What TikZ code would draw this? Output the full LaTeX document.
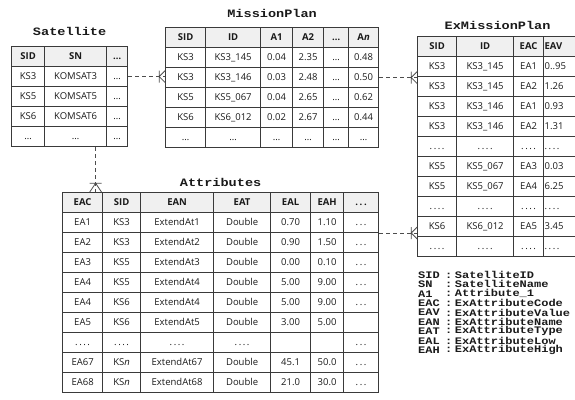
\documentclass[tikz,border=0pt]{standalone}
\usepackage{fontspec}
\setmainfont{Open Sans}
\newfontfamily\titlefont{Liberation Mono}[FakeStretch=1.2]
\usetikzlibrary{matrix,positioning}

\definecolor{hdrgray}{HTML}{F0F0F0}
\definecolor{linegray}{HTML}{3A3A3A}
\definecolor{conngray}{HTML}{4D4D4D}
\definecolor{textgray}{HTML}{1A1A1A}

\newcommand{\cellsize}{\fontsize{9.5}{11}\selectfont}
\newcommand{\fourdot}{.\,.\,.\,.}
\newcommand{\threedot}{.\,.\,.}

\begin{document}
\begin{tikzpicture}[
      x=1pt, y=-1pt,
      cell/.style={draw=linegray, line width=0.8pt, minimum height=20pt, inner sep=0pt, anchor=center,
        text height=7pt, text depth=2pt, text=textgray, font=\cellsize},
      hdr/.style={fill=hdrgray, font=\cellsize\bfseries},
      tbl/.style={matrix of nodes, nodes in empty cells, anchor=north west, inner sep=0pt,
        row sep=-0.8pt, column sep=-0.8pt, nodes={cell}, row 1/.style={nodes={hdr}}},
      title/.style={font=\titlefont\bfseries\fontsize{11.3}{12}\selectfont, inner sep=0pt, text=textgray},
      legend/.style={font=\titlefont\bfseries\fontsize{10}{10}\selectfont, inner sep=0pt, anchor=west, text=textgray},
      conn/.style={draw=conngray, line width=0.8pt, dash pattern=on 4pt off 3pt},
      crowfoot/.pic={
        \draw[draw=conngray, line width=0.8pt, solid] (-#1,-6) -- (-#1,6) (0,-6) -- (-#1,0) -- (0,6);
      }
    ]
    \useasboundingbox (0,0) rectangle (575,399);

    \matrix[tbl,
      column 1/.style={nodes={minimum width=33pt}},
      column 2/.style={nodes={minimum width=62pt}},
      column 3/.style={nodes={minimum width=21pt}}] (sat) at (11,46) {
      SID & SN & \dots \\
      KS3 & KOMSAT3 & \dots \\
      KS5 & KOMSAT5 & \dots \\
      KS6 & KOMSAT6 & \dots \\
      \dots & \dots & \dots \\
    };
    \node[title] (sattitle) at ([yshift=15pt]sat.north) {Satellite};

    \matrix[tbl,
      column 1/.style={nodes={minimum width=40pt}},
      column 2/.style={nodes={minimum width=55pt}},
      column 3/.style={nodes={minimum width=32pt}},
      column 4/.style={nodes={minimum width=31pt}},
      column 5/.style={nodes={minimum width=25pt}},
      column 6/.style={nodes={minimum width=30pt}}] (mp) at (165,27) {
      SID & ID & A1 & A2 & \dots & A\textit{n} \\
      KS3 & KS3\_145 & 0.04 & 2.35 & \dots & 0.48 \\
      KS3 & KS3\_146 & 0.03 & 2.48 & \dots & 0.50 \\
      KS5 & KS5\_067 & 0.04 & 2.65 & \dots & 0.62 \\
      KS6 & KS6\_012 & 0.02 & 2.67 & \dots & 0.44 \\
      \dots & \dots & \dots & \dots & \dots & \dots \\
    };
    \node[title] (mptitle) at ([yshift=14pt]mp.north) {MissionPlan};

    \matrix[tbl,
      column 1/.style={nodes={minimum width=39pt}},
      column 2/.style={nodes={minimum width=57pt}},
      column 3/.style={nodes={minimum width=30pt}},
      column 4/.style={nodes={minimum width=34pt, text width=32pt, align=left}}] (emp) at (417,36) {
      SID & ID & EAC & EAV \\
      KS3 & KS3\_145 & EA1 & 0..95 \\
      KS3 & KS3\_145 & EA2 & 1.26 \\
      KS3 & KS3\_146 & EA1 & 0.93 \\
      KS3 & KS3\_146 & EA2 & 1.31 \\
      \fourdot & \fourdot & \fourdot & \fourdot \\
      KS5 & KS5\_067 & EA3 & 0.03 \\
      KS5 & KS5\_067 & EA4 & 6.25 \\
      \fourdot & \fourdot & \fourdot & \fourdot \\
      KS6 & KS6\_012 & EA5 & 3.45 \\
      \fourdot & \fourdot & \fourdot & \fourdot \\
    };
    \node[title] (emptitle) at ([yshift=11pt]emp.north) {ExMissionPlan};

    \matrix[tbl,
      column 1/.style={nodes={minimum width=40pt}},
      column 2/.style={nodes={minimum width=38pt}},
      column 3/.style={nodes={minimum width=73pt}},
      column 4/.style={nodes={minimum width=57pt}},
      column 5/.style={nodes={minimum width=40pt}},
      column 6/.style={nodes={minimum width=33pt}},
      column 7/.style={nodes={minimum width=35pt}}] (att) at (62,192) {
      EAC & SID & EAN & EAT & EAL & EAH & \threedot \\
      EA1 & KS3 & ExtendAt1 & Double & 0.70 & 1.10 & \threedot \\
      EA2 & KS3 & ExtendAt2 & Double & 0.90 & 1.50 & \threedot \\
      EA3 & KS5 & ExtendAt3 & Double & 0.00 & 0.10 & \threedot \\
      EA4 & KS5 & ExtendAt4 & Double & 5.00 & 9.00 & \threedot \\
      EA4 & KS6 & ExtendAt4 & Double & 5.00 & 9.00 & \threedot \\
      EA5 & KS6 & ExtendAt5 & Double & 3.00 & 5.00 & \\
      \fourdot & \fourdot & \fourdot & \fourdot & & & \threedot \\
      EA67 & KS\textit{n} & ExtendAt67 & Double & 45.1 & 50.0 & \threedot \\
      EA68 & KS\textit{n} & ExtendAt68 & Double & 21.0 & 30.0 & \threedot \\
    };
    \node[title] (atttitle) at ([yshift=10pt]att.north) {Attributes};

    \draw[conn] (sat-2-3.east) -- (sat-2-3.east -| mp-3-1.west) coordinate (ft1);
    \pic at (ft1) {crowfoot=6};
    \draw[conn] (mp-3-6.east) -- (mp-3-6.east -| emp-2-1.west) coordinate (ft2);
    \pic at (ft2) {crowfoot=6};
    \coordinate (satdrop) at ([xshift=20pt]sat-5-2.south);
    \draw[conn] (satdrop) -- (satdrop |- att-1-1.north) coordinate (ft3);
    \pic[rotate=-90] at (ft3) {crowfoot=9};
    \draw[conn] (att-2-7.south east) -- (att-2-7.south east -| emp-10-1.west) coordinate (ft4);
    \pic at (ft4) {crowfoot=6};

    \foreach \key/\val [count=\i from 0] in {SID/SatelliteID, SN/SatelliteName, A1/Attribute\_1,
        EAC/ExAttributeCode, EAV/ExAttributeValue, EAN/ExAttributeName,
        EAT/ExAttributeType, EAL/ExAttributeLow, EAH/ExAttributeHigh} {
      \node[legend] (key\i) at (418,275+9.4*\i) {\key};
      \node[legend] (val\i) at (445,275+9.4*\i) {:\hspace{2.5pt}\val};
    }
\end{tikzpicture}
\end{document}
